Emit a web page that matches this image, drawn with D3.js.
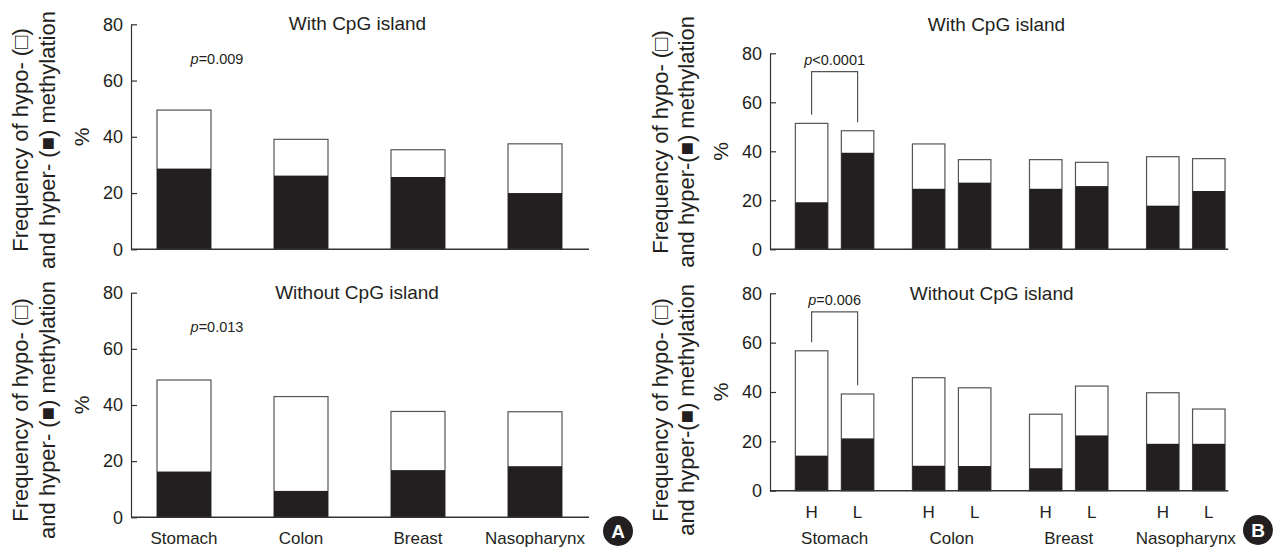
<!DOCTYPE html>
<html>
<head>
<meta charset="utf-8">
<script src="https://cdn.jsdelivr.net/npm/d3@7"></script>
<style>
  html, body { margin: 0; padding: 0; background: #fff; }
  svg { display: block; font-family: "Liberation Sans", Arial, Helvetica, sans-serif; }
</style>
</head>
<body>
<div id="chart"></div>
<script>
const tissues = ['Stomach', 'Colon', 'Breast', 'Nasopharynx'];
const levels = ['H', 'L'];
const yTicks = [0, 20, 40, 60, 80];
const titles = ['With CpG island', 'Without CpG island'];

// Panel A, one bar per tissue: hyper (black) and hypo (white) in %
const aWithHyper = [28.7, 26.2, 25.7, 20.0];
const aWithHypo = [20.8, 12.9, 9.7, 17.5];
const aWithoutHyper = [16.3, 9.4, 16.8, 18.2];
const aWithoutHypo = [32.6, 33.6, 20.9, 19.4];
const aPvalues = ['=0.009', '=0.013'];

// Panel B, ordered Stomach H, Stomach L, Colon H, Colon L, ...
const bWithHyper = [19.2, 39.4, 24.7, 27.2, 24.7, 25.8, 17.8, 23.8];
const bWithHypo = [32.2, 9.0, 18.3, 9.4, 11.9, 9.7, 20.0, 13.2];
const bWithoutHyper = [14.2, 21.2, 10.1, 10.0, 9.1, 22.4, 19.0, 19.0];
const bWithoutHypo = [42.5, 18.0, 35.7, 31.7, 21.9, 20.0, 20.7, 14.1];
const bPvalues = ['<0.0001', '=0.006'];

const INK = '#231f20';
const EDGE = '#555';

const svg = d3.select('#chart')
  .append('svg')
  .attr('width', 1275)
  .attr('height', 547);

svg.append('rect').attr('width', 1275).attr('height', 547).attr('fill', '#fff');

function drawPanel(p) {
  const g = svg.append('g');
  const y = d3.scaleLinear().domain([0, 80]).range([p.yBot, p.yTop]);
  const x = d3.scalePoint().domain(tissues).range(p.centres);
  const sub = d3.scalePoint().domain(levels).range([-p.offset, p.offset]);

  const rows = [];
  if (p.split) {
    tissues.forEach((t, i) => levels.forEach((l, j) => {
      const k = i * 2 + j;
      rows.push({ tissue: t, level: l, hyper: p.hyper[k], hypo: p.hypo[k] });
    }));
  } else {
    tissues.forEach((t, i) => rows.push({ tissue: t, level: null, hyper: p.hyper[i], hypo: p.hypo[i] }));
  }
  const cx = d => x(d.tissue) + (d.level ? sub(d.level) : 0);

  // white (hypo) part with outline, then black (hyper) on the bottom
  g.append('g').selectAll('rect')
    .data(rows)
    .join('rect')
    .attr('x', d => cx(d) - p.barW / 2)
    .attr('width', p.barW)
    .attr('y', d => y(d.hyper + d.hypo))
    .attr('height', d => y(0) - y(d.hyper + d.hypo))
    .attr('fill', '#fff')
    .attr('stroke', EDGE)
    .attr('stroke-width', 1.2);

  g.append('g').selectAll('rect')
    .data(rows)
    .join('rect')
    .attr('x', d => cx(d) - p.barW / 2)
    .attr('width', p.barW)
    .attr('y', d => y(d.hyper))
    .attr('height', d => y(0) - y(d.hyper))
    .attr('fill', INK);

  // axes
  const ax = g.append('g')
    .attr('transform', `translate(${p.xAxis},0)`)
    .call(d3.axisLeft(y).tickValues(yTicks).tickSizeInner(-6).tickSizeOuter(0).tickPadding(8));
  ax.attr('font-size', 18).attr('font-family', null);
  ax.selectAll('path, line').attr('stroke', '#333').attr('stroke-width', 1.2);
  ax.selectAll('text').attr('fill', INK);

  g.append('line')
    .attr('x1', p.xAxis).attr('x2', p.xEnd)
    .attr('y1', y(0)).attr('y2', y(0))
    .attr('stroke', '#333').attr('stroke-width', 1.4);

  // panel title
  g.append('text')
    .attr('x', p.titleX).attr('y', p.titleY)
    .attr('text-anchor', 'middle')
    .attr('font-size', 19)
    .attr('fill', INK)
    .text(p.title);

  // y titles
  const yc = p.labelY;
  [p.line1, p.line2].forEach((s, i) => {
    g.append('text')
      .attr('transform', `translate(${p.xAxis + (i ? p.line2Dx : p.line1Dx)},${yc}) rotate(-90)`)
      .attr('text-anchor', 'middle')
      .attr('font-size', 22)
      .attr('fill', INK)
      .text(s);
  });
  g.append('text')
    .attr('transform', `translate(${p.xAxis - 42},${(p.yTop + p.yBot) / 2}) rotate(-90)`)
    .attr('text-anchor', 'middle')
    .attr('font-size', 21)
    .attr('fill', INK)
    .text('%');

  // p value annotation
  if (p.split) {
    const st = rows.filter(d => d.tissue === 'Stomach');
    const level = 72.5;
    const pts = [
      [cx(st[0]), y(st[0].hyper + st[0].hypo + 3.5)],
      [cx(st[0]), y(level)],
      [cx(st[1]), y(level)],
      [cx(st[1]), y(st[1].hyper + st[1].hypo + 3.5)]
    ];
    g.append('path')
      .attr('d', d3.line()(pts))
      .attr('fill', 'none')
      .attr('stroke', EDGE)
      .attr('stroke-width', 1.2);
    const t = g.append('text')
      .attr('x', (cx(st[0]) + cx(st[1])) / 2)
      .attr('y', y(level) - 7)
      .attr('text-anchor', 'middle')
      .attr('font-size', 14.5)
      .attr('fill', INK);
    t.append('tspan').attr('font-style', 'italic').text('p');
    t.append('tspan').text(p.pvalue);
  } else {
    const t = g.append('text')
      .attr('x', x('Stomach') + 33)
      .attr('y', y(66))
      .attr('text-anchor', 'middle')
      .attr('font-size', 14.5)
      .attr('fill', INK);
    t.append('tspan').attr('font-style', 'italic').text('p');
    t.append('tspan').text(p.pvalue);
  }

  // category labels on lower charts
  if (p.xLabels) {
    g.append('g').selectAll('text')
      .data(tissues)
      .join('text')
      .attr('x', d => x(d))
      .attr('y', 544)
      .attr('text-anchor', 'middle')
      .attr('font-size', 17)
      .attr('fill', INK)
      .text(d => d);
    if (p.split) {
      g.append('g').selectAll('text')
        .data(rows)
        .join('text')
        .attr('x', d => cx(d))
        .attr('y', 518)
        .attr('text-anchor', 'middle')
        .attr('font-size', 17)
        .attr('fill', INK)
        .text(d => d.level);
    }
  }
}

const aLine1 = 'Frequency of hypo- (\u25A1)';
const aLine2 = 'and hyper- (\u25A0) methylation';
const bLine2 = 'and hyper-(\u25A0) methylation';

drawPanel({
  split: false, hyper: aWithHyper, hypo: aWithHypo, pvalue: aPvalues[0], title: titles[0],
  xAxis: 131, xEnd: 589, yTop: 24.3, yBot: 249.3, centres: [184, 535], offset: 0, barW: 54,
  titleX: 357.5, titleY: 30, labelY: 140, line1: aLine1, line2: aLine2, line1Dx: -103, line2Dx: -76,
  xLabels: false
});
drawPanel({
  split: false, hyper: aWithoutHyper, hypo: aWithoutHypo, pvalue: aPvalues[1], title: titles[1],
  xAxis: 131, xEnd: 589, yTop: 292.7, yBot: 517.3, centres: [184, 535], offset: 0, barW: 54,
  titleX: 357, titleY: 299, labelY: 410, line1: aLine1, line2: aLine2, line1Dx: -103, line2Dx: -76,
  xLabels: true
});
drawPanel({
  split: true, hyper: bWithHyper, hypo: bWithHypo, pvalue: bPvalues[0], title: titles[0],
  xAxis: 770, xEnd: 1228.3, yTop: 53.3, yBot: 249.3, centres: [834.6, 1185.8], offset: 23, barW: 32.5,
  titleX: 996.5, titleY: 30.7, labelY: 142, line1: aLine1, line2: bLine2, line1Dx: -102, line2Dx: -76,
  xLabels: false
});
drawPanel({
  split: true, hyper: bWithoutHyper, hypo: bWithoutHypo, pvalue: bPvalues[1], title: titles[1],
  xAxis: 770, xEnd: 1228.3, yTop: 293.3, yBot: 490.7, centres: [834.6, 1185.8], offset: 23, barW: 32.5,
  titleX: 991.7, titleY: 300, labelY: 410, line1: aLine1, line2: bLine2, line1Dx: -102, line2Dx: -76,
  xLabels: true
});

// panel letters
const badges = [{ label: 'A', cx: 618, cy: 531 }, { label: 'B', cx: 1258, cy: 530 }];
const badge = svg.append('g').selectAll('g')
  .data(badges)
  .join('g')
  .attr('transform', d => `translate(${d.cx},${d.cy})`);
badge.append('circle').attr('r', 15).attr('fill', INK);
badge.append('text')
  .attr('text-anchor', 'middle')
  .attr('dy', '0.36em')
  .attr('font-size', 19)
  .attr('font-weight', 'bold')
  .attr('fill', '#fff')
  .text(d => d.label);
</script>
</body>
</html>
